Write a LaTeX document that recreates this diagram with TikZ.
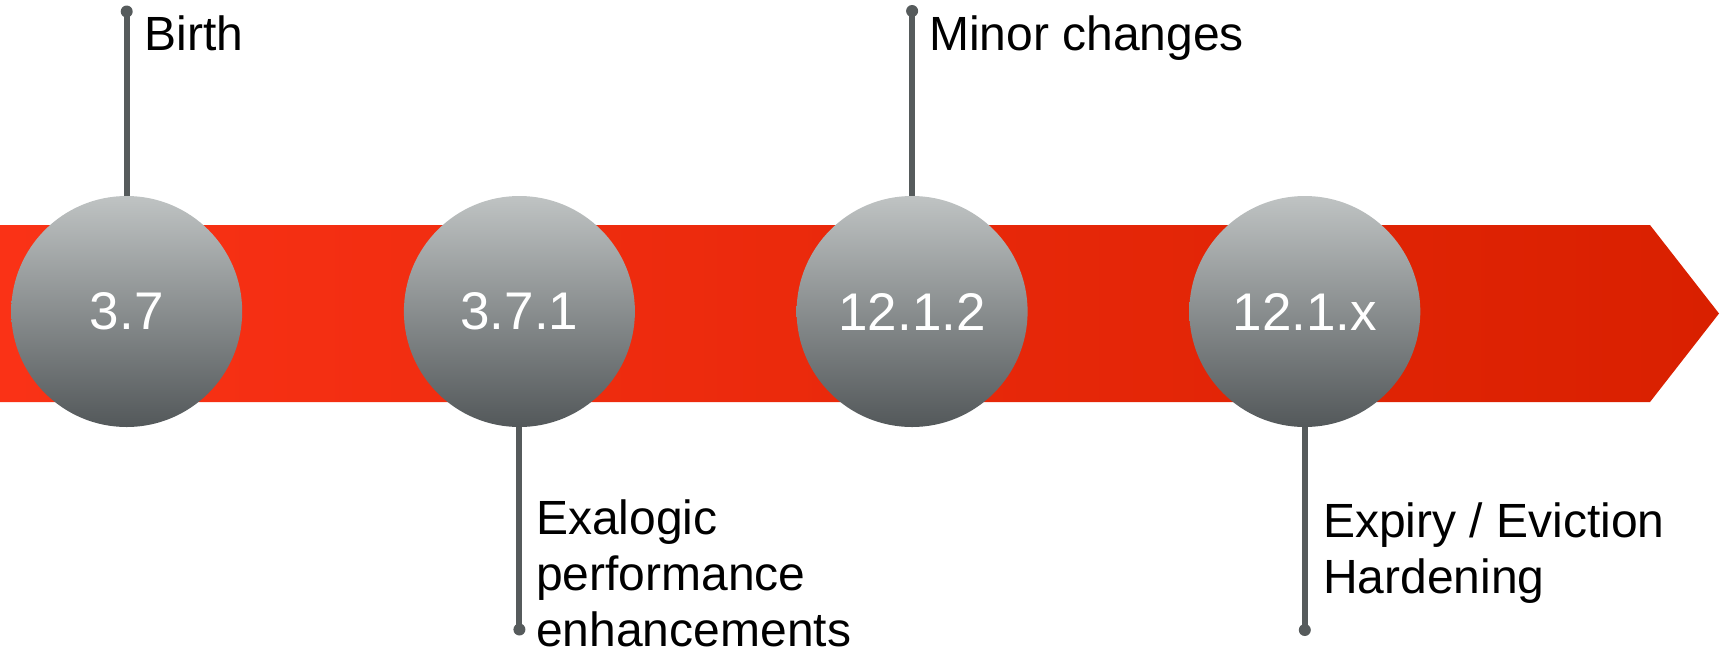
\documentclass[tikz,border=0pt]{standalone}
\usepackage{fontspec}
\setmainfont{Liberation Sans}
\definecolor{bandL}{HTML}{FA3216}
\definecolor{bandR}{HTML}{D92000}
\definecolor{discTop}{HTML}{BFC3C3}
\definecolor{discBot}{HTML}{53585A}
\definecolor{stemGray}{HTML}{565B5C}
\newcommand{\lines}[1]{\begin{tabular}[t]{@{}l@{}}#1\end{tabular}}
\begin{document}
\begin{tikzpicture}[x=1pt,y=-1pt,
  disc/.style={circle, minimum size=231pt, inner sep=0pt,
    top color=discTop, bottom color=discBot, text=white,
    font=\fontsize{53}{60}\selectfont},
  stem/.style={draw=stemGray, line width=6pt},
  note/.style={anchor=base west, inner sep=0pt,
    font=\fontsize{48}{56}\selectfont}]
\useasboundingbox (0,0) rectangle (1729,654);

% timeline band with arrow head
\shade[left color=bandL, right color=bandR]
  (0,225) -- (1650,225) -- (1719,313.5) -- (1650,402) -- (0,402) -- cycle;

% release discs
\node[disc] (c1) at (126.7,311.5) {3.7};
\node[disc] (c2) at (519.4,311.5) {3.7.1};
\node[disc] (c3) at (912.1,311.5) {12.1.2};
\node[disc] (c4) at (1304.8,311.5) {12.1.x};

% stem ends
\coordinate (t1) at (126.7,11.5);
\coordinate (t2) at (519.4,629.5);
\coordinate (t3) at (912.1,11);
\coordinate (t4) at (1304.8,630);

% stems with round end dots
\draw[stem] (t1) -- (c1.north);
\draw[stem] (t2) -- (c2.south);
\draw[stem] (t3) -- (c3.north);
\draw[stem] (t4) -- (c4.south);
\foreach \t in {t1,t2,t3,t4} \fill[stemGray] (\t) circle (6pt);

% descriptions
\node[note] (l1) at (144.5,50) {Birth};
\node[note] (l3) at (929,50) {Minor changes};
\node[note] (l2) at (536,534) {\lines{Exalogic\\performance\\enhancements}};
\node[note] (l4) at (1323,537) {\lines{Expiry / Eviction\\Hardening}};
\end{tikzpicture}
\end{document}
